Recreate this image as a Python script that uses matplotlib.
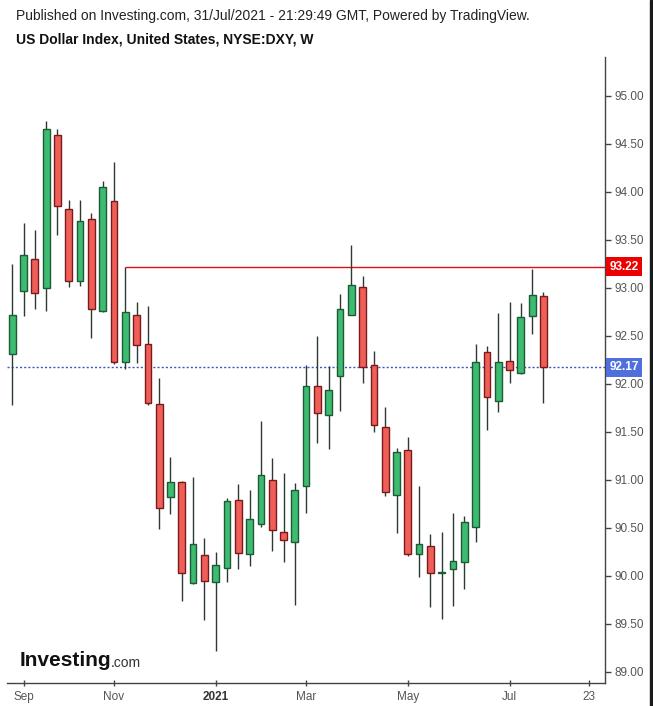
import matplotlib
matplotlib.use("Agg")
import matplotlib.pyplot as plt
import matplotlib.transforms as mtransforms
from matplotlib.patches import Rectangle
import pandas as pd

plt.rcParams['font.family'] = ['Liberation Sans', 'DejaVu Sans']

# weekly DXY candles, week of 31/Aug/2020 .. week of 26/Jul/2021
dates = pd.date_range('2020-08-31', periods=48, freq='7D')
opens = [92.31, 92.97, 93.30, 93.00, 94.59, 93.82, 93.07, 93.72, 92.76, 93.90, 92.23, 92.72,
         92.41, 91.79, 90.82, 90.98, 89.92, 90.22, 89.93, 90.08, 90.79, 90.23, 90.54, 91.00,
         90.45, 90.35, 90.93, 91.98, 91.67, 92.08, 92.72, 93.01, 92.19, 91.55, 90.84, 91.31,
         90.23, 90.31, 90.03, 90.07, 90.14, 90.51, 92.33, 91.82, 92.24, 92.11, 92.71, 92.91]
highs = [93.25, 93.67, 93.60, 94.74, 94.65, 93.91, 93.91, 93.78, 94.11, 94.31, 93.22, 92.85,
         92.81, 92.06, 91.24, 90.99, 91.03, 90.39, 90.25, 90.81, 90.95, 90.89, 91.61, 91.23,
         91.07, 90.97, 92.19, 92.50, 92.18, 92.93, 93.45, 93.12, 92.34, 91.76, 91.33, 91.44,
         90.93, 90.43, 90.45, 90.65, 90.62, 92.41, 92.39, 92.74, 92.85, 92.84, 93.20, 92.96]
lows = [91.78, 92.71, 92.78, 92.76, 93.55, 93.01, 93.02, 92.48, 92.75, 92.20, 92.15, 92.22,
        91.78, 90.49, 90.64, 89.74, 89.91, 89.54, 89.22, 89.93, 90.07, 90.10, 90.51, 90.26,
        90.14, 89.69, 90.65, 91.38, 91.32, 91.72, 92.72, 92.01, 91.50, 90.83, 90.44, 90.21,
        89.99, 89.67, 89.55, 89.68, 89.86, 90.35, 91.52, 91.71, 92.01, 92.10, 92.52, 91.80]
closes = [92.72, 93.34, 92.94, 94.65, 93.85, 93.07, 93.69, 92.78, 94.05, 92.23, 92.75, 92.40,
          91.80, 90.70, 90.98, 90.03, 90.33, 89.94, 90.11, 90.78, 90.24, 90.59, 91.05, 90.48,
          90.37, 90.89, 91.98, 91.69, 91.93, 92.78, 93.03, 92.17, 91.57, 90.87, 91.29, 90.23,
          90.33, 90.03, 90.04, 90.15, 90.56, 92.23, 91.86, 92.23, 92.14, 92.70, 92.92, 92.17]

# horizontal level drawn from the early-Nov high, and the last close
level_start = '2020-11-09'
level_price = 93.22
last_price = closes[-1]

tick_dates = ['2020-09-07', '2020-11-02', '2021-01-04', '2021-03-01', '2021-05-03', '2021-07-05', '2021-08-23']
tick_labels = ['Sep', 'Nov', '2021', 'Mar', 'May', 'Jul', '23']
price_ticks = [89.0, 89.5, 90.0, 90.5, 91.0, 91.5, 92.0, 92.5, 93.0, 93.5, 94.0, 94.5, 95.0]

UP, DOWN = '#3dbb70', '#ef5f58'
UP_EDGE, DOWN_EDGE = '#1d5a35', '#7a1b1b'
WICK = '#2c3a33'


def week_pos(d):
    return (pd.Timestamp(d) - dates[0]).days / 7.0


fig = plt.figure(figsize=(6.53, 7.06), dpi=100)
ax = fig.add_axes([0.0112, 0.0319, 0.9153, 0.8869])

xs = [week_pos(d) for d in dates]
for x, o, h, l, c in zip(xs, opens, highs, lows, closes):
    up = c >= o
    ax.vlines(x, l, h, color=WICK, linewidth=1, zorder=2)
    ax.bar(x, max(abs(c - o), 0.012), bottom=min(o, c), width=0.6,
           color=UP if up else DOWN, edgecolor=UP_EDGE if up else DOWN_EDGE,
           linewidth=1, zorder=3)

xmin, xmax = -0.44, 52.45
ax.set_xlim(xmin, xmax)
ax.set_ylim(88.877, 95.40)

ax.hlines(level_price, week_pos(level_start), xmax, color='#e01010', linewidth=1, zorder=1)
ax.axhline(last_price, color='#3b56c9', linewidth=1, linestyle=(0, (1.5, 1.5)), zorder=1)

# axes styling
for s in ['left', 'top']:
    ax.spines[s].set_visible(False)
for s in ['right', 'bottom']:
    ax.spines[s].set_color('#444444')
    ax.spines[s].set_linewidth(1)

ax.yaxis.tick_right()
ax.set_yticks(price_ticks)
ax.set_yticklabels(['%.2f' % p for p in price_ticks])
ax.tick_params(axis='y', direction='out', length=4, width=1, color='#444444',
               labelsize=8.5, labelcolor='#555555', pad=3)

ax.set_xticks([week_pos(d) for d in tick_dates])
ax.set_xticklabels(tick_labels)
ax.tick_params(axis='x', direction='inout', length=5, width=1, color='#444444',
               labelsize=8.5, labelcolor='#555555', pad=3)
for lab in ax.get_xticklabels():
    if lab.get_text() == '2021':
        lab.set_fontweight('bold')
        lab.set_color('#333333')

# price labels on the right axis
trans = mtransforms.blended_transform_factory(ax.transAxes, ax.transData)
ax.text(1.007, level_price, '%.2f' % level_price, transform=trans, ha='left', va='center',
        fontsize=8.5, color='white', fontweight='bold',
        bbox=dict(boxstyle='square,pad=0.28', fc='#ee0000', ec='none'), zorder=5)
ax.text(1.007, last_price, '%.2f' % last_price, transform=trans, ha='left', va='center',
        fontsize=8.5, color='white', fontweight='bold',
        bbox=dict(boxstyle='square,pad=0.28', fc='#4f6fdc', ec='none'), zorder=5)

# header
fig.text(16 / 653, 1 - 16 / 706, 'Published on Investing.com, 31/Jul/2021 - 21:29:49 GMT, Powered by TradingView.',
         fontsize=10, color='#222222', va='center', ha='left')
fig.text(16 / 653, 1 - 40 / 706, 'US Dollar Index, United States, NYSE:DXY, W',
         fontsize=10, color='#111111', fontweight='bold', va='center', ha='left')

# watermark logo
fig.text(20 / 653, 1 - 661 / 706, 'Investing', fontsize=15, fontweight='bold', color='#111111',
         va='center', ha='left')
fig.text(111 / 653, 1 - 663 / 706, '.com', fontsize=10, color='#333333', va='center', ha='left')

# right border strip
fig.patches.append(Rectangle((650 / 653, 0), 3 / 653, 1, transform=fig.transFigure,
                             color='#1a1a1a', zorder=10))

fig.savefig('out.png', dpi=100)
